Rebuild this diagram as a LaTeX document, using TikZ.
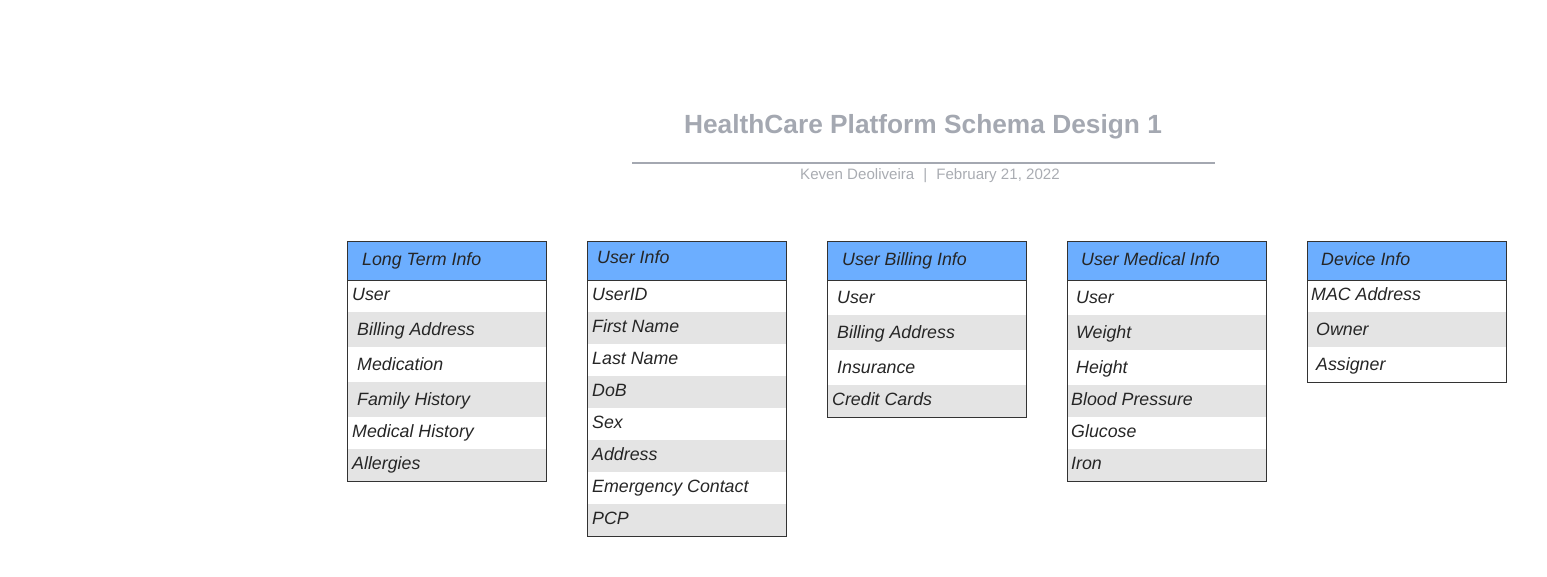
\documentclass[tikz,border=0pt]{standalone}
\usepackage{fontspec}
\setmainfont{Liberation Sans}
\definecolor{headblue}{HTML}{6CAEFF}
\definecolor{rowgrey}{HTML}{E4E4E4}
\definecolor{framegrey}{HTML}{333333}
\definecolor{inkgrey}{HTML}{262626}
\definecolor{titlegrey}{HTML}{A4A8B1}
\definecolor{subgrey}{HTML}{A9ACB2}
\tikzset{
  x=1pt, y=-1pt,
  cell/.style={inner sep=0pt, text=inkgrey, font=\fontsize{17.8}{20}\selectfont\itshape},
  tframe/.style={draw=framegrey, line width=1pt},
}
% one table row: name, left x, top y, bottom y, text indent, fill, text
\newcommand\tblrow[7]{%
  \fill[#6] (#2,#3) rectangle (#2+199,#4);
  \node[cell, anchor=base west] (#1) at (#2+#5,#4-12) {#7};
}
% table header: name, left x, indent, baseline y, text
\newcommand\tblhead[5]{%
  \fill[headblue] (#2,241) rectangle (#2+199,280);
  \node[cell, anchor=base west] (#1) at (#2+#3,#4) {#5};
}
% table frame: left x, bottom y
\newcommand\tblframe[2]{%
  \draw[tframe] (#1,241) rectangle (#1+199,#2);
  \draw[tframe] (#1,280) -- (#1+199,280);
}
\begin{document}
\begin{tikzpicture}
\useasboundingbox (0,0) rectangle (1547,576);

% title block
\node[inner sep=0pt, anchor=base, text=titlegrey, font=\fontsize{26.3}{30}\selectfont\bfseries] (title) at (923,133.5) {HealthCare Platform Schema Design 1};
\coordinate (ruleL) at (632,163);
\coordinate (ruleR) at (1215,163);
\draw[titlegrey, line width=1.6pt] (ruleL) -- (ruleR);
\node[inner sep=0pt, anchor=base, text=subgrey, font=\fontsize{15.1}{18}\selectfont] (subtitle) at (930,179.4) {Keven Deoliveira\hspace{0.6em}|\hspace{0.6em}February 21, 2022};

% Long Term Info
\tblhead{lt-head}{347}{15}{265.5}{Long Term Info}
\tblrow{lt-user}{347}{280}{312}{5}{white}{User}
\tblrow{lt-bill}{347}{312}{347}{10}{rowgrey}{Billing Address}
\tblrow{lt-med}{347}{347}{382}{10}{white}{Medication}
\tblrow{lt-fam}{347}{382}{417}{10}{rowgrey}{Family History}
\tblrow{lt-medhist}{347}{417}{449}{5}{white}{Medical History}
\tblrow{lt-allerg}{347}{449}{481}{5}{rowgrey}{Allergies}
\tblframe{347}{481}

% User Info
\tblhead{ui-head}{587}{10}{263.5}{User Info}
\tblrow{ui-id}{587}{280}{312}{5}{white}{UserID}
\tblrow{ui-first}{587}{312}{344}{5}{rowgrey}{First Name}
\tblrow{ui-last}{587}{344}{376}{5}{white}{Last Name}
\tblrow{ui-dob}{587}{376}{408}{5}{rowgrey}{DoB}
\tblrow{ui-sex}{587}{408}{440}{5}{white}{Sex}
\tblrow{ui-addr}{587}{440}{472}{5}{rowgrey}{Address}
\tblrow{ui-emerg}{587}{472}{504}{5}{white}{Emergency Contact}
\tblrow{ui-pcp}{587}{504}{536}{5}{rowgrey}{PCP}
\tblframe{587}{536}

% User Billing Info
\tblhead{ub-head}{827}{15}{265.5}{User Billing Info}
\tblrow{ub-user}{827}{280}{315}{10}{white}{User}
\tblrow{ub-bill}{827}{315}{350}{10}{rowgrey}{Billing Address}
\tblrow{ub-ins}{827}{350}{385}{10}{white}{Insurance}
\tblrow{ub-cards}{827}{385}{417}{5}{rowgrey}{Credit Cards}
\tblframe{827}{417}

% User Medical Info
\tblhead{um-head}{1067}{14}{265.5}{User Medical Info}
\tblrow{um-user}{1067}{280}{315}{9}{white}{User}
\tblrow{um-weight}{1067}{315}{350}{9}{rowgrey}{Weight}
\tblrow{um-height}{1067}{350}{385}{9}{white}{Height}
\tblrow{um-bp}{1067}{385}{417}{4}{rowgrey}{Blood Pressure}
\tblrow{um-gluc}{1067}{417}{449}{4}{white}{Glucose}
\tblrow{um-iron}{1067}{449}{481}{4}{rowgrey}{Iron}
\tblframe{1067}{481}

% Device Info
\tblhead{di-head}{1307}{14}{265.5}{Device Info}
\tblrow{di-mac}{1307}{280}{312}{4}{white}{MAC Address}
\tblrow{di-owner}{1307}{312}{347}{9}{rowgrey}{Owner}
\tblrow{di-assign}{1307}{347}{382}{9}{white}{Assigner}
\tblframe{1307}{382}
\end{tikzpicture}
\end{document}
